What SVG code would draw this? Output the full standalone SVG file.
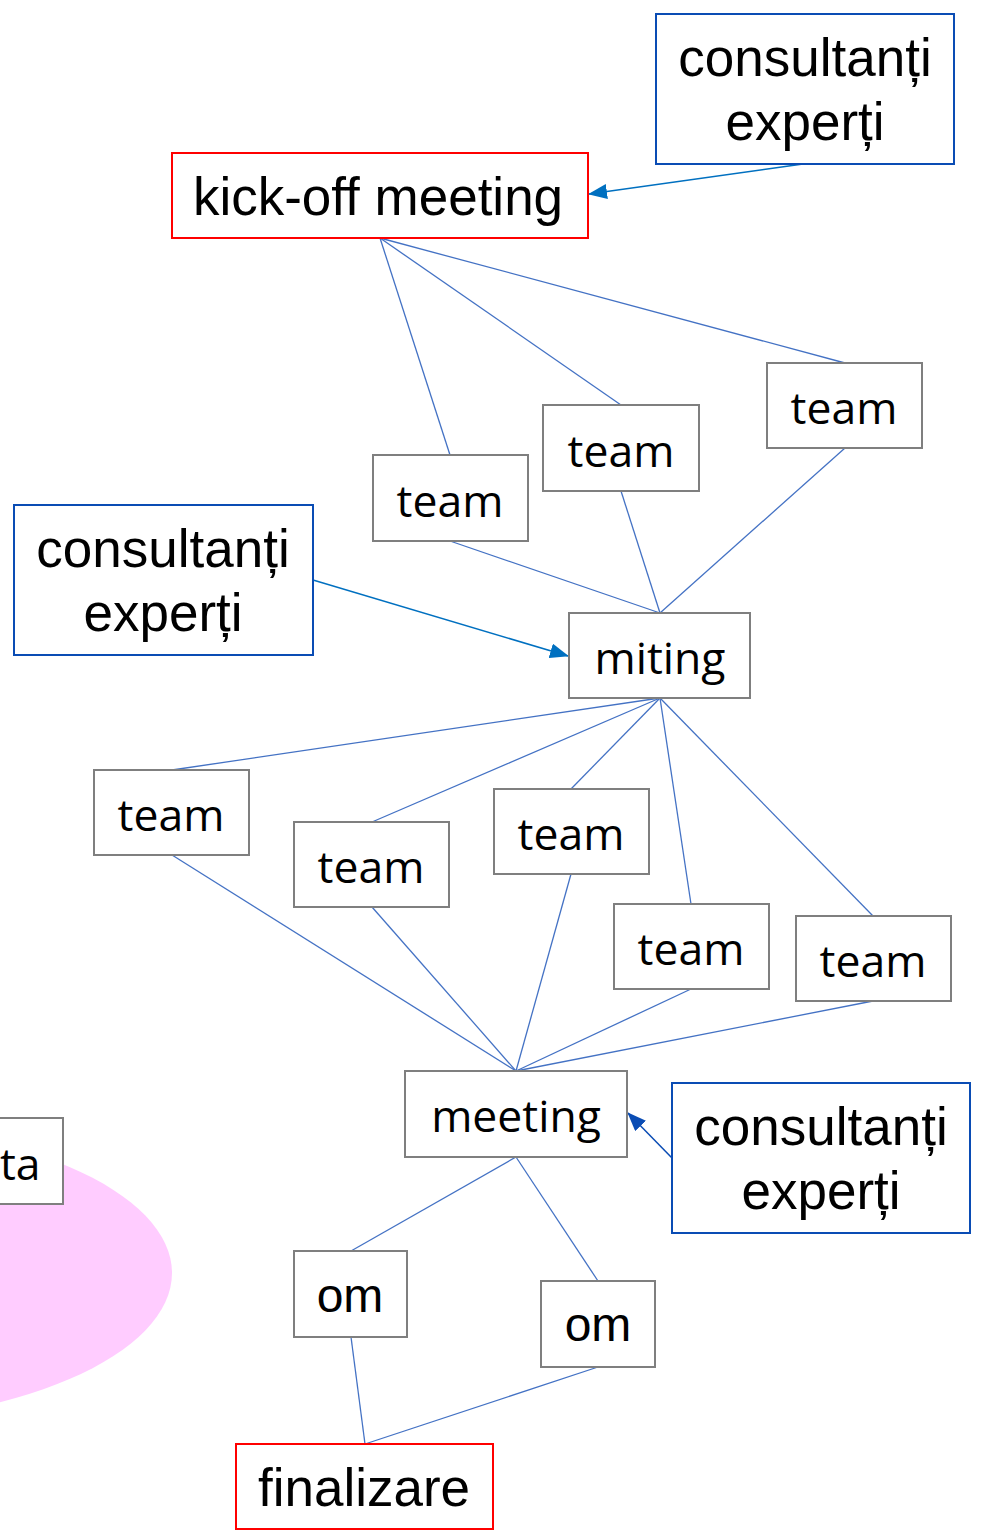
<svg xmlns="http://www.w3.org/2000/svg" width="989" height="1535" viewBox="0 0 989 1535">
<style>
.box{fill:#FFFFFF;stroke:#7F7F7F;stroke-width:2}
.red{fill:#FFFFFF;stroke:#FF0000;stroke-width:2}
.blue{fill:#FFFFFF;stroke:#0A4CB4;stroke-width:2}
.tc{font-family:"Open Sans","Noto Sans",sans-serif;font-size:44.5px;fill:#000;text-anchor:middle}
.ta{font-family:"Liberation Sans",Arial,sans-serif;font-size:53px;fill:#000;text-anchor:middle}
.om{font-family:"Liberation Sans",Arial,sans-serif;font-size:48px;fill:#000;text-anchor:middle}
.ln{stroke:#4472C4;stroke-width:1.3;fill:none}
.ar{stroke:#0070C0;stroke-width:1.5;fill:none}
.ar2{stroke:#0A4CB4;stroke-width:1.5;fill:none}
</style>
<defs>
<marker id="ah" markerUnits="userSpaceOnUse" markerWidth="19" markerHeight="15" refX="18" refY="7.5" orient="auto">
<path d="M0,0 L19,7.5 L0,15 Z" fill="#0070C0"/>
</marker>
<marker id="ah2" markerUnits="userSpaceOnUse" markerWidth="19" markerHeight="15" refX="18" refY="7.5" orient="auto">
<path d="M0,0 L19,7.5 L0,15 Z" fill="#0A4CB4"/>
</marker>
</defs>
<rect width="989" height="1535" fill="#FFFFFF"/>
<ellipse cx="-178" cy="1273" rx="350" ry="150" fill="#FFCCFF"/>
<g id="node-ta"><rect class="box" x="-92" y="1118" width="155" height="86"/><text class="tc" x="0" y="1180" style="text-anchor:start">ta</text></g>

<g id="connectors">
<line class="ln" x1="380" y1="238" x2="450" y2="455"/>
<line class="ln" x1="380" y1="238" x2="621" y2="405"/>
<line class="ln" x1="380" y1="238" x2="845" y2="363"/>
<line class="ln" x1="450" y1="541" x2="660" y2="613"/>
<line class="ln" x1="621" y1="491" x2="660" y2="613"/>
<line class="ln" x1="845" y1="448" x2="660" y2="613"/>
<line class="ln" x1="660" y1="698" x2="172" y2="770"/>
<line class="ln" x1="660" y1="698" x2="372" y2="822"/>
<line class="ln" x1="660" y1="698" x2="571" y2="789"/>
<line class="ln" x1="660" y1="698" x2="691" y2="904"/>
<line class="ln" x1="660" y1="698" x2="873" y2="916"/>
<line class="ln" x1="172" y1="855" x2="516" y2="1071"/>
<line class="ln" x1="372" y1="907" x2="516" y2="1071"/>
<line class="ln" x1="571" y1="874" x2="516" y2="1071"/>
<line class="ln" x1="691" y1="989" x2="516" y2="1071"/>
<line class="ln" x1="873" y1="1001" x2="516" y2="1071"/>
<line class="ln" x1="516" y1="1157" x2="351" y2="1251"/>
<line class="ln" x1="516" y1="1157" x2="598" y2="1281"/>
<line class="ln" x1="351" y1="1337" x2="365" y2="1444"/>
<line class="ln" x1="598" y1="1367" x2="365" y2="1444"/>
<line class="ar" x1="803" y1="164" x2="589" y2="194" marker-end="url(#ah)"/>
<line class="ar" x1="313" y1="580" x2="568" y2="656" marker-end="url(#ah)"/>
<line class="ar2" x1="672" y1="1158" x2="628" y2="1113" marker-end="url(#ah2)"/>
</g>

<g id="node-consult-top"><rect class="blue" x="656" y="14" width="298" height="150"/><text class="ta" x="805" y="76">consultanți</text><text class="ta" x="805" y="140">experți</text></g>
<g id="node-kickoff"><rect class="red" x="172" y="153" width="416" height="85"/><text class="ta" x="378" y="215">kick-off meeting</text></g>
<g id="node-team-a"><rect class="box" x="373" y="455" width="155" height="86"/><text class="tc" x="450" y="517">team</text></g>
<g id="node-team-b"><rect class="box" x="543" y="405" width="156" height="86"/><text class="tc" x="621" y="467">team</text></g>
<g id="node-team-c"><rect class="box" x="767" y="363" width="155" height="85"/><text class="tc" x="844" y="424">team</text></g>
<g id="node-consult-left"><rect class="blue" x="14" y="505" width="299" height="150"/><text class="ta" x="163" y="567">consultanți</text><text class="ta" x="163" y="631">experți</text></g>
<g id="node-miting"><rect class="box" x="569" y="613" width="181" height="85"/><text class="tc" x="660" y="674">miting</text></g>
<g id="node-team-d"><rect class="box" x="94" y="770" width="155" height="85"/><text class="tc" x="171" y="831">team</text></g>
<g id="node-team-e"><rect class="box" x="294" y="822" width="155" height="85"/><text class="tc" x="371" y="883">team</text></g>
<g id="node-team-f"><rect class="box" x="494" y="789" width="155" height="85"/><text class="tc" x="571" y="850">team</text></g>
<g id="node-team-g"><rect class="box" x="614" y="904" width="155" height="85"/><text class="tc" x="691" y="965">team</text></g>
<g id="node-team-h"><rect class="box" x="796" y="916" width="155" height="85"/><text class="tc" x="873" y="977">team</text></g>
<g id="node-meeting"><rect class="box" x="405" y="1071" width="222" height="86"/><text class="tc" x="516" y="1132">meeting</text></g>
<g id="node-consult-right"><rect class="blue" x="672" y="1083" width="298" height="150"/><text class="ta" x="821" y="1145">consultanți</text><text class="ta" x="821" y="1209">experți</text></g>
<g id="node-om1"><rect class="box" x="294" y="1251" width="113" height="86"/><text class="om" x="350" y="1312">om</text></g>
<g id="node-om2"><rect class="box" x="541" y="1281" width="114" height="86"/><text class="om" x="598" y="1341">om</text></g>
<g id="node-finalizare"><rect class="red" x="236" y="1444" width="257" height="85"/><text class="ta" x="364" y="1506">finalizare</text></g>
</svg>
